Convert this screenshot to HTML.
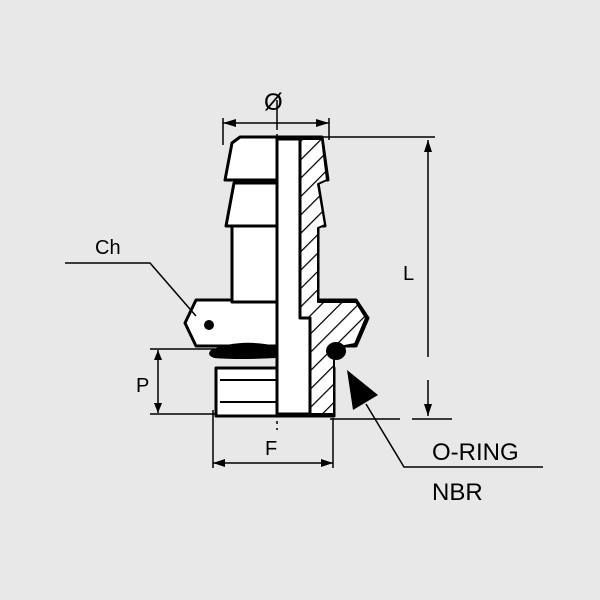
<!DOCTYPE html>
<html><head><style>body{margin:0;background:#e8e8e8}svg{display:block}</style></head><body>
<svg width="600" height="600" viewBox="0 0 600 600" xmlns="http://www.w3.org/2000/svg" font-family="Liberation Sans, sans-serif">
<rect width="600" height="600" fill="#e8e8e8"/>
<defs>
<pattern id="h" width="13" height="13" patternUnits="userSpaceOnUse" patternTransform="rotate(-45)">
<rect width="13" height="13" fill="#fff"/><line x1="0" y1="0" x2="13" y2="0" stroke="#000" stroke-width="2.5"/></pattern>
</defs>
<g stroke="#000" stroke-width="3" stroke-linejoin="round" fill="#fff">
<path d="M196,300 L356,300 L368,318 L356,346 L196,346 L185,323 Z"/>
<rect x="216" y="368" width="118" height="48"/>
<line x1="220" y1="380" x2="300" y2="380" stroke-width="2"/>
<line x1="220" y1="402" x2="300" y2="402" stroke-width="2"/>
<rect x="232" y="226" width="86" height="76"/>
<path d="M234,183 L318,183 L325,226 L226,226 Z"/>
<path d="M240,137 L322,137 L328,180 L225,180 L232,143 Z"/>
<path d="M300,139 L322,139 L327,180 L318,184 L325,225 L318,228 L318,302 L356,302 L366,318 L355,344 L334,348 L334,414 L310,414 L310,318 L300,318 Z" fill="url(#h)" stroke-width="2"/>
<path d="M277,139 L300,139 L300,318 L310,318 L310,414 L277,414 Z"/>
</g>
<path d="M211,350 Q240,338 276,346 L276,358 Q240,360 214,358 Q206,355 211,350 Z" fill="#000"/>
<ellipse cx="336" cy="351" rx="10" ry="9" fill="#000"/>
<circle cx="209" cy="325" r="5" fill="#000"/>
<g stroke="#000" stroke-width="1.5" fill="none">
<line x1="277" y1="100" x2="277" y2="430" stroke-dasharray="30,4,3,4"/>
<line x1="223" y1="118" x2="223" y2="145"/><line x1="329" y1="118" x2="329" y2="140"/>
<line x1="223" y1="123" x2="329" y2="123"/>
<line x1="322" y1="137" x2="435" y2="137"/>
<line x1="428" y1="140" x2="428" y2="357"/><line x1="428" y1="380" x2="428" y2="416"/>
<line x1="412" y1="419" x2="452" y2="419"/>
<line x1="330" y1="419" x2="400" y2="419"/>
<line x1="158" y1="350" x2="158" y2="413"/>
<line x1="150" y1="349" x2="215" y2="349"/>
<line x1="150" y1="414" x2="215" y2="414"/>
<line x1="213" y1="410" x2="213" y2="468"/><line x1="333" y1="418" x2="333" y2="468"/>
<line x1="213" y1="463" x2="333" y2="463"/>
<polyline points="65,263 150,263 196,316"/>
<polyline points="366,404 404,467 543,467"/>
</g>
<g fill="#000">
<polygon points="223,123 236,119 236,127"/><polygon points="329,123 316,119 316,127"/>
<polygon points="428,140 424,152 432,152"/><polygon points="428,416 424,404 432,404"/>
<polygon points="158,350 154,360 162,360"/><polygon points="158,413 154,403 162,403"/>
<polygon points="213,463 225,459 225,467"/><polygon points="333,463 321,459 321,467"/>
<polygon points="347,370 353,410 378,395"/>
</g>
<text x="264" y="110" font-size="24">Ø</text>
<text x="95" y="254" font-size="20">Ch</text>
<text x="403" y="280" font-size="20">L</text>
<text x="136" y="392" font-size="20">P</text>
<text x="265" y="455" font-size="20">F</text>
<text x="432" y="460" font-size="24">O-RING</text>
<text x="432" y="500" font-size="24">NBR</text>
</svg>
</body></html>
